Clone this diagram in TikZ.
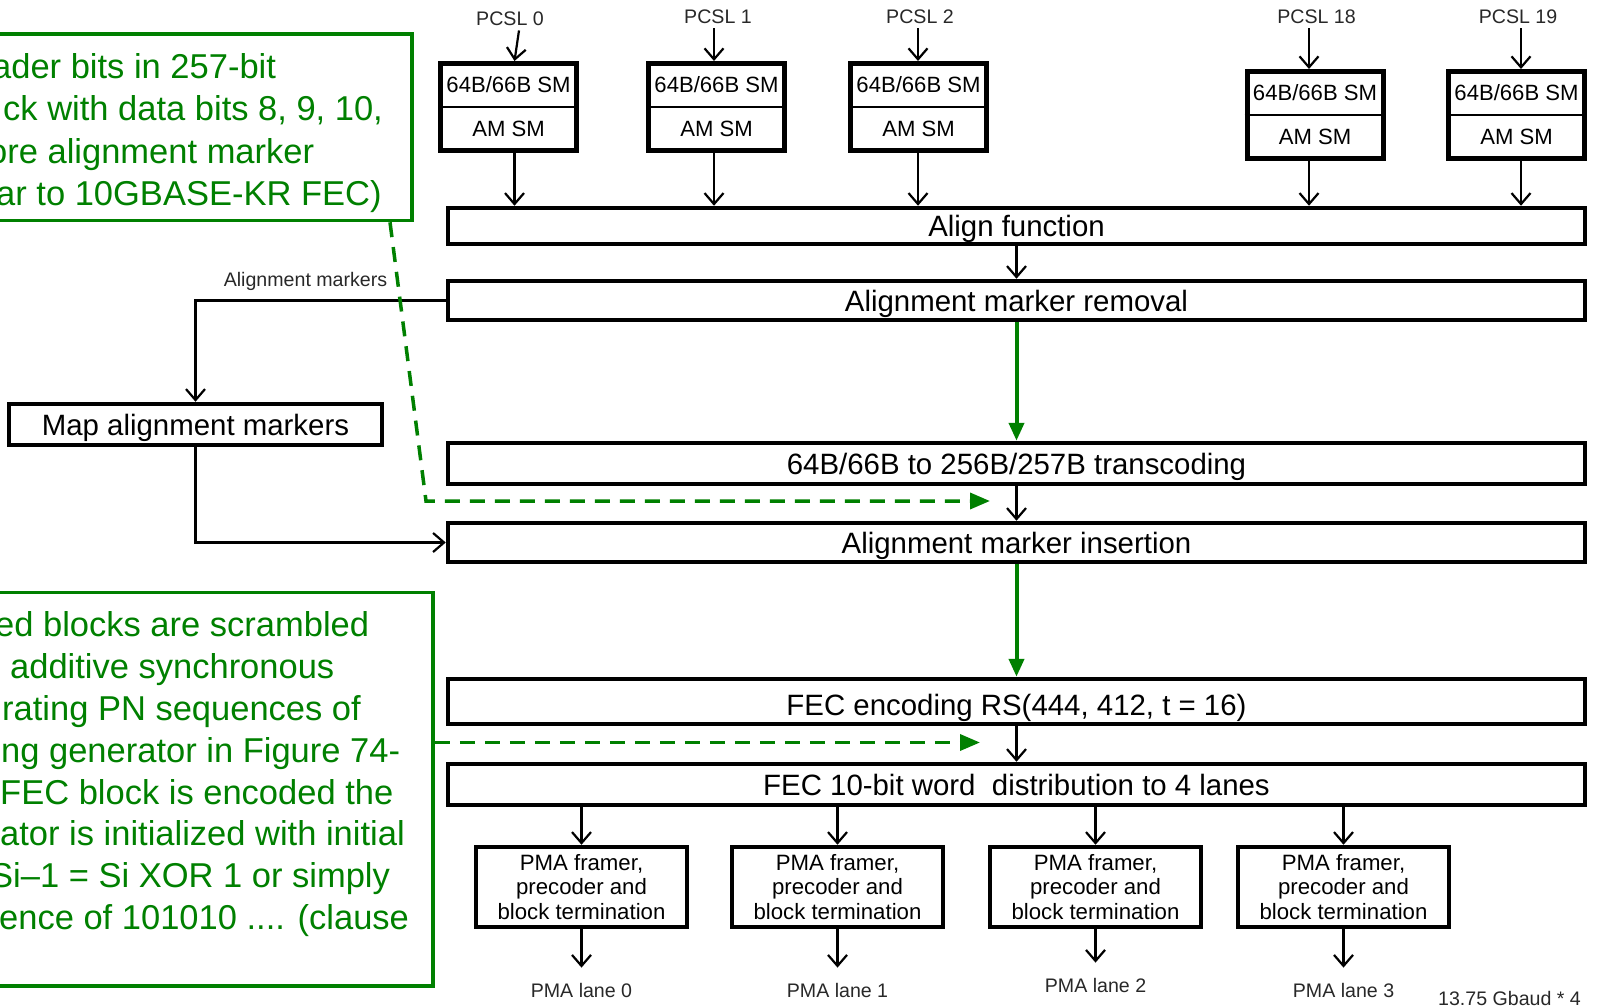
\documentclass[tikz,border=0pt]{standalone}
\usepackage{fontspec}
\setmainfont{Liberation Sans}
\usetikzlibrary{arrows.meta}
\definecolor{notegreen}{RGB}{0,128,0}
\definecolor{labelgray}{RGB}{40,40,40}

\begin{document}
\begin{tikzpicture}[x=1pt,y=-1pt,
  bigbox/.style={draw, line width=4.5pt, minimum width=1137pt, inner sep=0pt,
    text height=21pt, text depth=0pt, font=\fontsize{29.4}{35}\selectfont},
  mapbox/.style={draw, line width=4.5pt, minimum width=373pt, minimum height=41pt,
    inner sep=0pt, text height=21pt, text depth=0pt, font=\fontsize{29.4}{35}\selectfont},
  smbox/.style={draw, line width=5pt, minimum width=136pt, minimum height=87pt, inner sep=0pt},
  smtext/.style={font=\fontsize{22.1}{26}\selectfont, inner sep=0pt},
  pmabox/.style={draw, line width=4.5pt, minimum width=211pt, minimum height=80pt,
    inner sep=0pt, align=center, font=\fontsize{22.2}{24.4}\selectfont},
  small/.style={font=\fontsize{19.6}{23}\selectfont, text=labelgray, inner sep=0pt},
  pcsl/.style={font=\fontsize{19.6}{23}\selectfont, text=labelgray, inner sep=5pt},
  conn/.style={line width=2.2pt, -{Straight Barb[length=11pt,width=19pt]}},
  gline/.style={line width=4pt, notegreen, -{Triangle[length=18pt,width=15pt]}},
  gdash/.style={line width=3.5pt, notegreen, dash pattern=on 15pt off 10pt,
    -{Triangle[length=20pt,width=16pt]}},
  gbox/.style={draw=notegreen, line width=3.5pt, inner sep=0pt},
  note/.style={font=\fontsize{34.5}{42}\selectfont, text=notegreen, anchor=base west, inner sep=0pt},
]
\useasboundingbox (0,0) rectangle (1597,1006);
\clip (0,0) rectangle (1597,1006);

% main processing chain
\node[bigbox, minimum height=36pt] (align)   at (1016.5,226)   {Align function};
\node[bigbox, minimum height=39pt] (amr)     at (1016.5,300.5) {Alignment marker removal};
\node[bigbox, minimum height=41pt] (trans)   at (1016.5,463.5) {64B/66B to 256B/257B transcoding};
\node[bigbox, minimum height=39pt] (ami)     at (1016.5,542.5) {Alignment marker insertion};
\node[bigbox, minimum height=45pt] (fecenc)  at (1016.5,701.5) {\raisebox{-3pt}{FEC encoding RS(444, 412, t = 16)}};
\node[bigbox, minimum height=41pt] (fecdist) at (1016.5,784.5) {FEC 10-bit word\ \ distribution to 4 lanes};

\draw[conn]  (align.south)  -- (amr.north);
\draw[gline] (amr.south)    -- (trans.north);
\draw[conn]  (trans.south)  -- (ami.north);
\draw[gline] (ami.south)    -- (fecenc.north);
\draw[conn]  (fecenc.south) -- (fecdist.north);

% per-lane synchronisation state machines
\foreach \n/\x/\y/\ly/\ax/\tx in {0/508.5/107/18.3/6/10.5, 1/716.5/107/16.3/-2.5/-2.5,
    2/918.5/107/16.3/-0.5/-0.5, 18/1315/115/16.3/-6/-6, 19/1516.5/115/16.3/4.5/4.5} {
  \node[smbox] (s\n) at (\x,\y) {};
  \draw[line width=2pt] (s\n.west) -- (s\n.east);
  \node[smtext] (sa\n) at ([yshift=22.5pt]s\n.center) {64B/66B SM};
  \node[smtext] (sb\n) at ([yshift=-22pt]s\n.center) {AM SM};
  \node[pcsl] (p\n) at (\x+1.5,\ly) {PCSL \n};
  \draw[conn] ([xshift=\tx pt]s\n.north |- p\n.south) -- ([xshift=\ax pt]s\n.north);
  \draw[conn] ([xshift=\ax pt]s\n.south) -- ([xshift=\ax pt]s\n.south |- align.north);
}

% PMA lanes
\foreach \n/\x/\ly in {0/581.5/990, 1/837.5/990, 2/1095.5/985, 3/1343.5/990} {
  \node[pmabox] (m\n) at (\x,887) {PMA framer,\\precoder and\\block termination};
  \node[small] (l\n) at (\x,\ly) {PMA lane \n};
  \draw[conn] (m\n |- fecdist.south) -- (m\n.north);
  \draw[conn] (m\n.south) -- ([yshift=15pt]l\n.north);
}
\node[small] (rate) at (1509.5,998) {13.75 Gbaud * 4};

% alignment marker side path
\node[mapbox] (map) at (195.5,424.5) {Map alignment markers};
\node[small] (amlab) at (305.5,281) {Alignment markers};
\draw[conn] (amr.west) -| (map.north);
\draw[conn] (map.south) |- (ami.west);

% annotation boxes
\node[gbox, minimum width=422pt, minimum height=186.5pt] (note1) at (201,127.25) {};
\node[note] (n1a) at (-8,79)  {ader bits in 257-bit};
\node[note] (n1b) at (3,121)  {ck with data bits 8, 9, 10,};
\node[note] (n1c) at (-12,163) {ore alignment marker};
\node[note] (n1d) at (-4,205) {ar to 10GBASE-KR FEC)};

\node[gbox, minimum width=443pt, minimum height=393.5pt] (note2) at (211.5,789.25) {};
\node[note] (n2a) at (-5,636) {ed blocks are scrambled};
\node[note] (n2b) at (10,678) {additive synchronous};
\node[note] (n2c) at (2,720)  {rating PN sequences of};
\node[note] (n2d) at (1,762)  {ng generator in Figure 74-};
\node[note] (n2e) at (0,804)  {FEC block is encoded the};
\node[note] (n2f) at (0,845)  {ator is initialized with initial};
\node[note] (n2g) at (-10,887) {Si–1 = Si XOR 1 or simply};
\node[note] (n2h) at (-1,929) {ence of 101010 .... (clause};

\coordinate (gbend) at (426,501);
\coordinate (gend1) at (990,501);
\coordinate (gend2) at (980,742.5);
\draw[gdash] ([xshift=189pt]note1.south) -- (gbend) -- (gend1);
\draw[gdash] ([yshift=46.75pt]note2.east) -- (gend2);
\end{tikzpicture}
\end{document}
